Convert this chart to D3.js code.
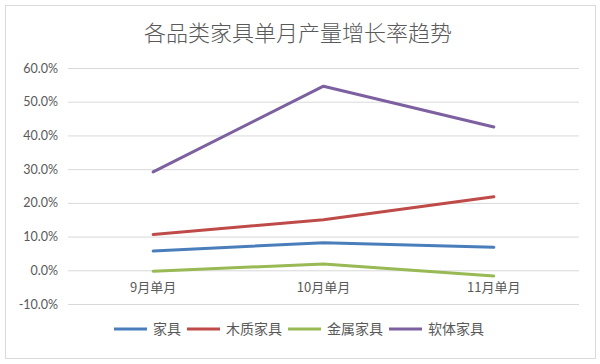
<!DOCTYPE html>
<html><head><meta charset="utf-8">
<script src="https://cdn.jsdelivr.net/npm/d3@7/dist/d3.min.js"></script>
<style>body{margin:0;background:#fff}svg{display:block}</style>
</head><body><svg id="c" width="600" height="364"></svg>
<script>
const title = "各品类家具单月产量增长率趋势";
const categories = ["9月单月", "10月单月", "11月单月"];
const seriesNames = ["家具", "木质家具", "金属家具", "软体家具"];
const furniture = [5.7, 8.2, 6.8];
const wood = [10.6, 15.0, 21.8];
const metal = [-0.3, 1.9, -1.7];
const soft = [29.2, 54.6, 42.5];
const yTicks = [-10, 0, 10, 20, 30, 40, 50, 60];
const colors = ["#4a7ebb", "#be4b48", "#98b954", "#7d60a0"];

const values = [furniture, wood, metal, soft];
const svg = d3.select("#c");
const font = "'Noto Sans CJK SC', 'Noto Sans', sans-serif";
const pLeft = 68, pRight = 579, pTop = 68, pBottom = 304;

svg.append("rect").attr("x", 5.5).attr("y", 5.5).attr("width", 590).attr("height", 353)
  .attr("fill", "#fff").attr("stroke", "#d9d9d9");

svg.append("text").attr("x", 298).attr("y", 41).attr("text-anchor", "middle")
  .attr("font-family", font).attr("font-size", 22).attr("font-weight", 300).attr("fill", "#595959").text(title);

const x = d3.scaleBand().domain(categories).range([pLeft, pRight]);
const y = d3.scaleLinear().domain([-10, 60]).range([pBottom, pTop]);

const yAxis = d3.axisLeft(y).tickValues(yTicks).tickSize(-(pRight - pLeft)).tickPadding(10)
  .tickFormat(d => d.toFixed(1) + "%");
const gy = svg.append("g").attr("transform", `translate(${pLeft},0)`).call(yAxis);
gy.select(".domain").remove();
gy.selectAll("line").attr("stroke", "#d9d9d9").attr("stroke-width", 1);
gy.selectAll("text").attr("font-family", "Lato, 'Open Sans', sans-serif").attr("font-size", 12.5).attr("fill", "#595959");

const gx = svg.append("g").attr("transform", `translate(0,${y(0)})`).call(d3.axisBottom(x).tickSize(0).tickPadding(12));
gx.select(".domain").remove();
gx.selectAll("text").attr("font-family", font).attr("font-size", 13).attr("fill", "#595959");

const line = d3.line().x((d, i) => x(categories[i]) + x.bandwidth() / 2).y(d => y(d));
values.forEach((v, k) => {
  svg.append("path").datum(v).attr("d", line).attr("fill", "none")
    .attr("stroke", colors[k]).attr("stroke-width", 3).attr("stroke-linecap", "round").attr("stroke-linejoin", "round");
});

// legend
const lg = svg.append("g").attr("transform", "translate(0,329)");
let cx = 114;
seriesNames.forEach((n, k) => {
  lg.append("line").attr("x1", cx).attr("x2", cx + 33).attr("y1", 0).attr("y2", 0)
    .attr("stroke", colors[k]).attr("stroke-width", 3);
  const t = lg.append("text").attr("x", cx + 39).attr("y", 5).attr("font-family", font)
    .attr("font-size", 14).attr("fill", "#595959").text(n);
  cx = cx + 39 + t.node().getComputedTextLength() + 6;
});
</script></body></html>
